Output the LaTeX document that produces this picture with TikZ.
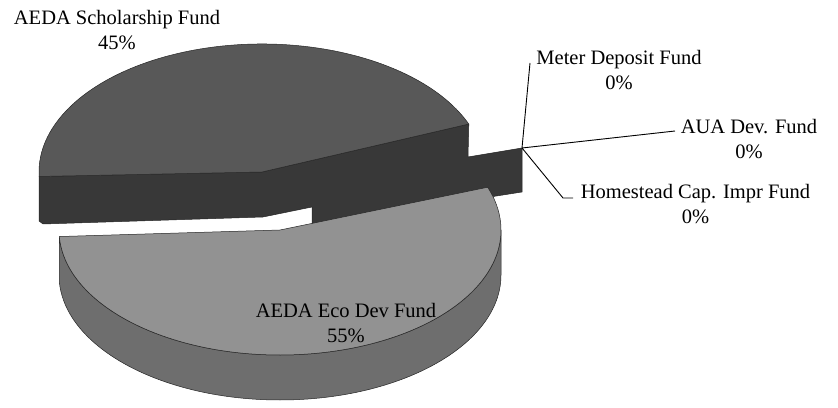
\documentclass[tikz,border=0pt]{standalone}
\usepackage{fontspec}
\setmainfont{Liberation Serif}
\usepackage{tikz}
\usetikzlibrary{calc}
\definecolor{DarkTop}{RGB}{88,88,88}
\definecolor{DarkSide}{RGB}{56,56,56}
\definecolor{LightTop}{RGB}{146,146,146}
\definecolor{LightSide}{RGB}{110,110,110}
\tikzset{
	slice/.style={draw=black!85, line width=0.5pt, line join=round},
	lbl/.style={align=center, font=\fontsize{20.5}{25}\selectfont, inner sep=0pt},
	leader/.style={line width=0.9pt, black},
}

\begin{document}
\begin{tikzpicture}[x=1pt,y=1pt]
		\useasboundingbox (0,0) rectangle (838,407);

		% scholarship slice, pulled out to the back
		\filldraw[slice, fill=DarkSide] (39,230.5) -- (262,235) -- (468.8,283) -- (468,250) -- (522,259) -- (522,215) -- (490,210) -- (312,181) -- (312,200) -- (263,190) -- (43,183) -- (39,186) -- cycle;
		\filldraw[slice, fill=DarkTop] (262,235) -- ++(22:223pt and 128pt) arc[start angle=22, end angle=182, x radius=223pt, y radius=128pt] -- cycle;

		% eco dev slice
		\filldraw[slice, fill=LightSide] (280,177) ++(183:221pt and 125pt) arc[start angle=183, end angle=360, x radius=221pt, y radius=125pt] -- ++(0,-45) arc[start angle=360, end angle=183, x radius=221pt, y radius=125pt] -- cycle;
		\filldraw[slice, fill=LightTop] (280,177) -- ++(183:221pt and 125pt) arc[start angle=183, end angle=380, x radius=221pt, y radius=125pt] -- cycle;

		\coordinate (hub) at (522,259);
		\coordinate (meterend) at (530,344);
		\coordinate (auaend) at (675,276);
		\coordinate (homebend) at (563,209);
		\coordinate (homeend) at (573,209);

		\node[lbl] (schol) at (117,376.5) {AEDA Scholarship Fund\\45\%};
		\node[lbl] (meter) at (619,337) {Meter Deposit Fund\\0\%};
		\node[lbl] (aua) at (749,268) {AUA Dev. Fund\\0\%};
		\node[lbl] (home) at (695.5,202.5) {Homestead Cap. Impr Fund\\0\%};
		\node[lbl] (eco) at (346,83.5) {AEDA Eco Dev Fund\\55\%};

		\draw[leader] (hub) -- (meterend);
		\draw[leader] (hub) -- (auaend);
		\draw[leader] (hub) -- (homebend) -- (homeend);
	\end{tikzpicture}
\end{document}
